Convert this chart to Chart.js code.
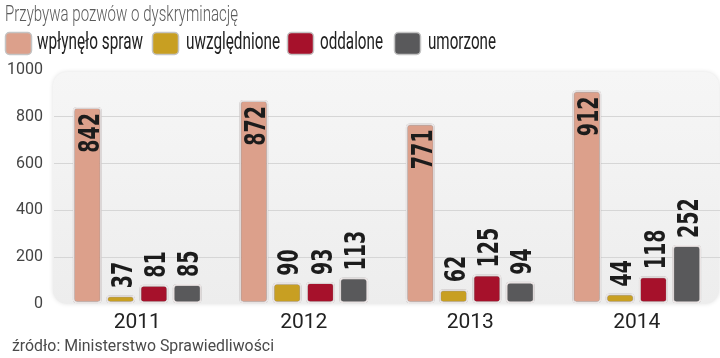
<!DOCTYPE html>
<html>
<head>
<meta charset="utf-8">
<script src="https://cdn.jsdelivr.net/npm/chart.js@4/dist/chart.umd.min.js"></script>
<style>
html,body{margin:0;padding:0;background:#fff;}
#wrap{width:720px;height:358px;position:relative;}
</style>
</head>
<body>
<div id="wrap"><canvas id="c" width="720" height="358"></canvas></div>
<script>
const titleText = "Przybywa pozwów o dyskryminację";
const sourceText = "źródło: Ministerstwo Sprawiedliwości";
const years = ["2011", "2012", "2013", "2014"];
const seriesNames = ["wpłynęło spraw", "uwzględnione", "oddalone", "umorzone"];
const wplynelo = [842, 872, 771, 912];
const uwzglednione = [37, 90, 62, 44];
const oddalone = [81, 93, 125, 118];
const umorzone = [85, 113, 94, 252];
const yTicks = [0, 200, 400, 600, 800, 1000];
const colors = ["#dca08b", "#c89f22", "#a6112b", "#59595b"];

const seriesValues = [wplynelo, uwzglednione, oddalone, umorzone];

const panelPlugin = {
  id: 'panel',
  beforeDraw(chart) {
    const {ctx, chartArea, scales} = chart;
    const l = chartArea.left - 1, r = chartArea.right - 1;
    const t = scales.y.getPixelForValue(1000) + 2, b = scales.y.getPixelForValue(0);
    ctx.save();
    ctx.shadowColor = 'rgba(0,0,0,0.12)';
    ctx.shadowBlur = 4;
    const g = ctx.createLinearGradient(0, t, 0, b);
    g.addColorStop(0, '#f6f6f6');
    g.addColorStop(1, '#ededed');
    ctx.fillStyle = g;
    ctx.beginPath();
    ctx.roundRect(l, t, r - l, b - t, 14);
    ctx.fill();
    ctx.restore();
  }
};

const barShadow = {
  id: 'barShadow',
  beforeDatasetsDraw(chart) {
    const ctx = chart.ctx;
    ctx.save();
    ctx.shadowColor = 'rgba(0,0,0,0.45)';
    ctx.shadowBlur = 2;
  },
  afterDatasetsDraw(chart) {
    chart.ctx.restore();
  }
};

const valueLabels = {
  id: 'valueLabels',
  afterDatasetsDraw(chart) {
    const ctx = chart.ctx;
    const fs = 28;
    const sx = 0.68;
    chart.data.datasets.forEach((ds, di) => {
      const meta = chart.getDatasetMeta(di);
      meta.data.forEach((bar, i) => {
        const v = ds.data[i];
        const txt = String(v);
        ctx.save();
        ctx.translate(bar.x + 1, bar.y);
        ctx.rotate(-Math.PI / 2);
        ctx.scale(sx, 1);
        ctx.font = 'bold ' + fs + 'px "DejaVu Sans"';
        ctx.fillStyle = '#1c1c1c';
        ctx.textBaseline = 'alphabetic';
        const half = fs * 0.729 / 2;
        if (di === 0) {
          ctx.textAlign = 'right';
          ctx.fillText(txt, -6 / sx, half);
        } else {
          ctx.textAlign = 'left';
          ctx.fillText(txt, 7 / sx, half);
        }
        ctx.restore();
      });
    });
  }
};

const headerFooter = {
  id: 'headerFooter',
  afterDraw(chart) {
    const ctx = chart.ctx;
    ctx.save();
    // title
    ctx.font = '300 22px Roboto';
    ctx.fillStyle = '#5a5a5a';
    ctx.textBaseline = 'middle';
    ctx.textAlign = 'left';
    ctx.fillText(titleText, 5, 15, 233);
    // legend
    const boxX = [5, 152, 287, 394];
    const txtX = [37, 186, 320, 428];
    const txtW = [106, 94, 63, 68];
    seriesNames.forEach((n, i) => {
      ctx.fillStyle = colors[i];
      ctx.strokeStyle = '#c4c4c4';
      ctx.lineWidth = 1.5;
      ctx.beginPath();
      ctx.roundRect(boxX[i] + 0.5, 32.5, 26, 22, 4);
      ctx.fill();
      ctx.stroke();
      ctx.font = '23px Roboto';
      ctx.fillStyle = '#222';
      ctx.fillText(n, txtX[i], 43, txtW[i]);
    });
    // source
    ctx.font = '17px Roboto';
    ctx.fillStyle = '#4a4a4a';
    ctx.fillText(sourceText, 12, 347, 262);
    ctx.restore();
  }
};

const datasets = seriesValues.map((vals, i) => ({
  label: seriesNames[i],
  data: vals,
  backgroundColor: colors[i],
  borderColor: '#f4eeee',
  borderWidth: 2,
  borderRadius: 4,
  borderSkipped: false,
  categoryPercentage: 0.8,
  barPercentage: 0.87
}));

new Chart(document.getElementById('c'), {
  type: 'bar',
  data: { labels: years, datasets },
  options: {
    responsive: false,
    animation: false,
    devicePixelRatio: 1,
    layout: { padding: { top: 70, right: 0, bottom: 17, left: 0 } },
    plugins: {
      legend: { display: false },
      title: { display: false },
      tooltip: { enabled: false }
    },
    scales: {
      x: {
        grid: { display: false, drawTicks: false },
        border: { display: false },
        ticks: {
          color: '#222',
          font: { family: 'Roboto', size: 21 },
          padding: 6
        }
      },
      y: {
        min: 0,
        max: 1000,
        afterFit(s) { s.width = 54; },
        afterBuildTicks(s) { s.ticks = yTicks.map(v => ({ value: v })); },
        grid: {
          drawTicks: false,
          color: ctx => (ctx.tick && (ctx.tick.value === 0 || ctx.tick.value === 1000)) ? 'rgba(0,0,0,0)' : '#d6d6d6',
          lineWidth: 1
        },
        border: { display: false },
        ticks: {
          color: '#444',
          font: { family: 'Roboto', size: 16 },
          padding: 11,
          callback: v => String(v)
        }
      }
    }
  },
  plugins: [panelPlugin, barShadow, valueLabels, headerFooter]
});
</script>
</body>
</html>
